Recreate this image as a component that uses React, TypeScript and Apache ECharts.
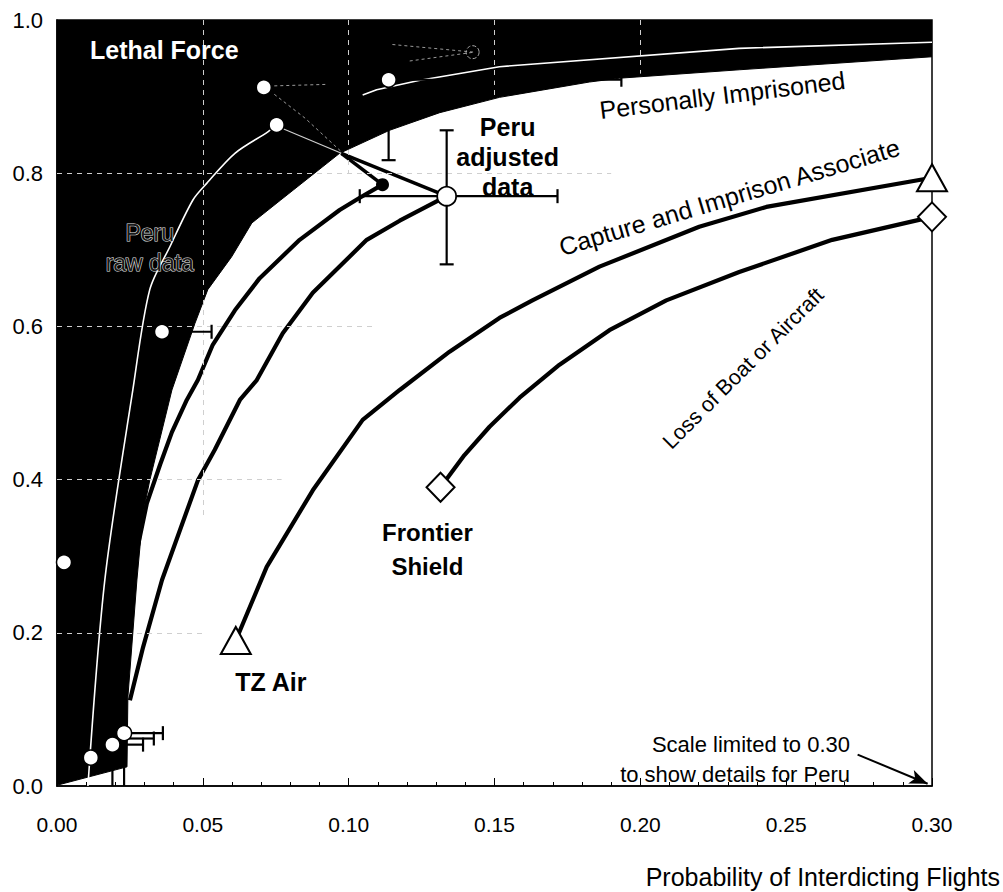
import React, { useEffect, useRef } from "react";
import * as echarts from "echarts";

// ---------------- data (x = probability of interdicting flights, y = deterrence) ----------------
const xTickValues = [0, 0.05, 0.1, 0.15, 0.2, 0.25, 0.3];
const yTickValues = [0, 0.2, 0.4, 0.6, 0.8, 1.0];

// lower edge of the black "Lethal Force" region (everything above it is black)
const lethalBoundary: number[][] = [
  [0, 0.001], [0.024, 0.025], [0.0243, 0.116], [0.0274, 0.269], [0.0295, 0.356],
  [0.0318, 0.399], [0.0394, 0.517], [0.0473, 0.604], [0.0517, 0.648], [0.0599, 0.691],
  [0.0668, 0.735], [0.0767, 0.765], [0.0969, 0.826], [0.114, 0.856], [0.1312, 0.879],
  [0.1517, 0.899], [0.1825, 0.919], [0.1928, 0.924], [0.2339, 0.935], [0.3, 0.952],
];

// Capture and Imprison Associate (TZ Air -> 0.30)
const captureCurve: number[][] = [
  [0.0613, 0.19], [0.0719, 0.286], [0.0877, 0.386], [0.1048, 0.478], [0.1175, 0.517],
  [0.1346, 0.567], [0.1517, 0.611], [0.163, 0.634], [0.186, 0.678], [0.2202, 0.73],
  [0.2432, 0.756], [0.3, 0.794],
];

// Loss of Boat or Aircraft (Frontier Shield -> 0.30)
const lossCurve: number[][] = [
  [0.1315, 0.39], [0.1397, 0.432], [0.1483, 0.469], [0.1586, 0.507], [0.1723, 0.55],
  [0.1894, 0.595], [0.2089, 0.634], [0.2339, 0.671], [0.2658, 0.713], [0.3, 0.743],
];

// Peru curve ending at the adjusted-data point
const peruAdjustedCurve: number[][] = [
  [0.025, 0.112], [0.0295, 0.181], [0.036, 0.269], [0.0483, 0.399], [0.0541, 0.439],
  [0.0627, 0.504], [0.0685, 0.53], [0.0774, 0.591], [0.0877, 0.644], [0.1062, 0.713],
  [0.1175, 0.738], [0.1336, 0.77],
];

// Peru curve ending at the black dot
const peruDotCurve: number[][] = [
  [0.027, 0.3], [0.0308, 0.369], [0.0353, 0.419], [0.0394, 0.462], [0.0445, 0.504], [0.0483, 0.53],
  [0.0534, 0.576], [0.061, 0.621], [0.0695, 0.663], [0.0832, 0.713], [0.0969, 0.752],
  [0.1038, 0.768], [0.1116, 0.785],
];

// adjustment strokes from the apex of the lethal region
const adjustToDot: number[][] = [[0.0975, 0.826], [0.1116, 0.785]];
const adjustToPeru: number[][] = [[0.0975, 0.826], [0.1336, 0.77]];

// Peru raw data (thin white lines)
const peruRawLine: number[][] = [
  [0.0106, 0], [0.0164, 0.269], [0.026, 0.517], [0.0318, 0.648], [0.0387, 0.704],
  [0.0466, 0.765], [0.0514, 0.787], [0.061, 0.826], [0.0723, 0.854], [0.0753, 0.863],
];
const peruRawUpper: number[][] = [
  [0.1048, 0.902], [0.1096, 0.909], [0.124, 0.921], [0.1517, 0.939], [0.2339, 0.963], [0.3, 0.971],
];
const rawToApex: number[][] = [[0.0775, 0.858], [0.0975, 0.826]];
const grayTraces: number[][][] = [
  [[0.0745, 0.914], [0.093, 0.916]],
  [[0.0745, 0.903], [0.085, 0.872], [0.0975, 0.828]],
  [[0.115, 0.968], [0.143, 0.958], [0.12, 0.946]],
];

const peruRawPoints: number[][] = [
  [0.0024, 0.292], [0.0116, 0.037], [0.019, 0.054], [0.023, 0.069], [0.036, 0.593],
  [0.0709, 0.912], [0.0753, 0.863], [0.1137, 0.922],
];
const faintPoint: number[][] = [[0.1425, 0.958]];
const peruAdjustedPoint: number[][] = [[0.1336, 0.77]];
const blackDot: number[][] = [[0.1116, 0.785]];
const trianglePoints: number[][] = [[0.0613, 0.19], [0.3, 0.794]];
const diamondPoints: number[][] = [[0.1315, 0.39], [0.3, 0.743]];

// error bars: x, y, xLow, xHigh, yLow, yHigh
const errorBars: number[][] = [
  [0.1336, 0.77, 0.1038, 0.1716, 0.681, 0.856],
  [0.036, 0.593, 0.036, 0.053, 0.593, 0.593],
  [0.1137, 0.922, 0.1137, 0.1935, 0.817, 0.922],
  [0.023, 0.069, 0.023, 0.0363, 0, 0.069],
  [0.024, 0.062, 0.024, 0.0332, 0.062, 0.062],
  [0.019, 0.054, 0.019, 0.0295, 0, 0.054],
];

// partial dashed grid remnants: [x1, y1, x2, y2]
const gridSegments: number[][] = [
  [0, 0.8, 0.19, 0.8], [0, 0.6, 0.108, 0.6], [0, 0.4, 0.077, 0.4], [0, 0.2, 0.05, 0.2],
  [0.05, 1, 0.05, 0.35], [0.1, 1, 0.1, 0.8], [0.15, 1, 0.15, 0.9], [0.2, 1, 0.2, 0.93],
];

const scaleArrow: number[][] = [[0.2745, 0.041], [0.2985, 0.003]];

// annotation anchors (data coords)
const lethalLabelAt = [0.0113, 0.961];
const peruRawLabelAt = [0.0318, 0.702];
const personallyLabelAt = [0.2281, 0.902];
const captureLabelAt = [0.2305, 0.769];
const lossLabelAt = [0.2353, 0.545];
const peruAdjLabelAt = [0.1545, 0.821];
const frontierLabelAt = [0.127, 0.309];
const tzLabelAt = [0.0733, 0.136];
const scaleNoteAt = [0.2719, 0.034];

const FONT = "'Liberation Sans', Arial, Helvetica, sans-serif";

export default function App() {
  const ref = useRef<HTMLDivElement>(null);

  useEffect(() => {
    const chart = echarts.init(ref.current!, null, { renderer: "svg" });

    const thick = (data: number[][], z = 4) => ({
      type: "line",
      data,
      symbol: "none",
      silent: true,
      z,
      lineStyle: { color: "#000", width: 4.2 },
    });

    const marker = (data: number[][], symbol: string, size: any, style: any, clip = true) => ({
      type: "scatter",
      data,
      symbol,
      symbolSize: size,
      clip,
      silent: true,
      z: 6,
      itemStyle: { opacity: 1, ...style },
    });

    const option: any = {
      animation: false,
      backgroundColor: "#fff",
      grid: {
        left: 57,
        top: 20,
        width: 875,
        height: 766,
        show: true,
        borderColor: "#000",
        borderWidth: 1.5,
        backgroundColor: "transparent",
      },
      xAxis: {
        type: "value",
        min: 0,
        max: 0.3,
        interval: 0.05,
        axisLine: { show: true, onZero: false, lineStyle: { color: "#000", width: 1.5 } },
        axisTick: { show: true, inside: true, length: 8, lineStyle: { color: "#000" } },
        minorTick: { show: true, splitNumber: 5, length: 4, lineStyle: { color: "#000" } },
        splitLine: { show: false },
        axisLabel: {
          color: "#000",
          fontFamily: FONT,
          fontSize: 21,
          margin: 28,
          formatter: (v: number) => v.toFixed(2),
        },
      },
      yAxis: {
        type: "value",
        min: 0,
        max: 1,
        interval: 0.2,
        axisLine: { show: true, onZero: false, lineStyle: { color: "#000", width: 1.5 } },
        axisTick: { show: false },
        splitLine: { show: false },
        axisLabel: {
          color: "#000",
          fontFamily: FONT,
          fontSize: 22,
          margin: 14,
          formatter: (v: number) => v.toFixed(1),
        },
      },
      series: [
        {
          type: "line",
          data: lethalBoundary,
          symbol: "none",
          silent: true,
          z: 1,
          lineStyle: { color: "#000", width: 1 },
          areaStyle: { color: "#000", opacity: 1, origin: "end" },
        },
        {
          type: "line",
          data: [[0, 0]],
          symbol: "none",
          silent: true,
          z: 2,
          lineStyle: { opacity: 0 },
          markLine: {
            silent: true,
            symbol: ["none", "none"],
            label: { show: false },
            lineStyle: { color: "#cfcfcf", width: 1, type: [5, 5] },
            data: gridSegments.map((s) => [{ coord: [s[0], s[1]] }, { coord: [s[2], s[3]] }]),
          },
        },
        {
          type: "line",
          data: peruRawLine,
          symbol: "none",
          smooth: 0.3,
          silent: true,
          z: 3,
          lineStyle: { color: "#fff", width: 1.6 },
        },
        {
          type: "line",
          data: peruRawUpper,
          symbol: "none",
          silent: true,
          z: 3,
          lineStyle: { color: "#fff", width: 1.6 },
        },
        {
          type: "line",
          data: rawToApex,
          symbol: "none",
          silent: true,
          z: 3,
          lineStyle: { color: "#d0d0d0", width: 1.2 },
        },
        ...grayTraces.map((t) => ({
          type: "line",
          data: t,
          symbol: "none",
          silent: true,
          z: 3,
          lineStyle: { color: "#9a9a9a", width: 1, type: [3, 3] },
        })),
        thick(captureCurve),
        thick(lossCurve),
        thick(peruAdjustedCurve),
        thick(peruDotCurve),
        { ...thick(adjustToDot), lineStyle: { color: "#000", width: 3.5 } },
        { ...thick(adjustToPeru), lineStyle: { color: "#000", width: 3.5 } },
        {
          type: "custom",
          coordinateSystem: "cartesian2d",
          data: errorBars,
          encode: { x: 0, y: 1 },
          silent: true,
          z: 5,
          renderItem: (_p: any, api: any) => {
            const x = api.value(0), y = api.value(1);
            const xl = api.value(2), xh = api.value(3), yl = api.value(4), yh = api.value(5);
            const c = api.coord([x, y]);
            const a = api.coord([xl, y]);
            const b = api.coord([xh, y]);
            const d = api.coord([x, yl]);
            const e = api.coord([x, yh]);
            const st = { stroke: "#000", lineWidth: 2.2 };
            const h = 7;
            const ch: any[] = [];
            if (xl !== xh) {
              ch.push({ type: "line", shape: { x1: a[0], y1: c[1], x2: b[0], y2: c[1] }, style: st });
              if (xl < x) ch.push({ type: "line", shape: { x1: a[0], y1: c[1] - h, x2: a[0], y2: c[1] + h }, style: st });
              if (xh > x) ch.push({ type: "line", shape: { x1: b[0], y1: c[1] - h, x2: b[0], y2: c[1] + h }, style: st });
            }
            if (yl !== yh) {
              ch.push({ type: "line", shape: { x1: c[0], y1: d[1], x2: c[0], y2: e[1] }, style: st });
              if (yl < y && yl > 0) ch.push({ type: "line", shape: { x1: c[0] - h, y1: d[1], x2: c[0] + h, y2: d[1] }, style: st });
              if (yh > y) ch.push({ type: "line", shape: { x1: c[0] - h, y1: e[1], x2: c[0] + h, y2: e[1] }, style: st });
            }
            return { type: "group", children: ch };
          },
        },
        marker(peruRawPoints, "circle", 15, { color: "#fff", borderColor: "#000", borderWidth: 1.5 }),
        marker(faintPoint, "circle", 13, { color: "rgba(0,0,0,0)", borderColor: "#aaa", borderWidth: 1, borderType: "dashed" }),
        marker(peruAdjustedPoint, "circle", 19, { color: "#fff", borderColor: "#000", borderWidth: 1.8 }),
        marker(blackDot, "circle", 13, { color: "#000" }),
        marker(trianglePoints, "triangle", [30, 27], { color: "#fff", borderColor: "#000", borderWidth: 2 }, false),
        marker(diamondPoints, "diamond", [28, 29], { color: "#fff", borderColor: "#000", borderWidth: 2 }, false),
        {
          type: "line",
          data: [[0.3, 0]],
          symbol: "none",
          silent: true,
          z: 6,
          lineStyle: { opacity: 0 },
          markLine: {
            silent: true,
            symbol: ["none", "arrow"],
            symbolSize: [11, 18],
            label: { show: false },
            lineStyle: { color: "#000", width: 2, type: "solid" },
            data: [[{ coord: scaleArrow[0] }, { coord: scaleArrow[1] }]],
          },
        },
      ],
    };

    chart.setOption(option);

    const px = (p: number[]) => chart.convertToPixel({ gridIndex: 0 }, p) as number[];
    const deg = (d: number) => (d * Math.PI) / 180;
    const txt = (at: number[], text: string, s: any, rot = 0) => {
      const p = px(at);
      return {
        type: "text",
        x: p[0],
        y: p[1],
        rotation: deg(rot),
        silent: true,
        z: 20,
        style: {
          text,
          fontFamily: FONT,
          fill: "#000",
          align: "center",
          verticalAlign: "middle",
          ...s,
        },
      };
    };

    chart.setOption({
      graphic: [
        txt(lethalLabelAt, "Lethal Force", { fill: "#fff", fontSize: 25, fontWeight: "bold", align: "left" }),
        txt(peruRawLabelAt, "Peru\nraw data", { fill: "#1a1a1a", stroke: "#e6e6e6", lineWidth: 1.1, fontSize: 23, lineHeight: 30 }),
        txt(personallyLabelAt, "Personally Imprisoned", { fontSize: 25 }, 7),
        txt(captureLabelAt, "Capture and Imprison Associate", { fontSize: 25 }, 16.6),
        txt(lossLabelAt, "Loss of Boat or Aircraft", { fontSize: 21.5 }, 45),
        txt(peruAdjLabelAt, "Peru\nadjusted\ndata", { fontSize: 25, fontWeight: "bold", lineHeight: 30 }),
        txt(frontierLabelAt, "Frontier\nShield", { fontSize: 24, fontWeight: "bold", lineHeight: 34 }),
        txt(tzLabelAt, "TZ Air", { fontSize: 25, fontWeight: "bold" }),
        txt(scaleNoteAt, "Scale limited to 0.30\nto show details for Peru", { fontSize: 22, align: "right", lineHeight: 30 }),
        {
          type: "text",
          right: 3,
          top: 864,
          silent: true,
          z: 20,
          style: { text: "Probability of Interdicting Flights", fontFamily: FONT, fontSize: 25, fill: "#000" },
        },
      ],
    });

    return () => chart.dispose();
  }, []);

  return (
    <div
      ref={ref}
      style={{ position: "fixed", left: 0, top: 0, width: 1003, height: 892, background: "#fff" }}
    />
  );
}
